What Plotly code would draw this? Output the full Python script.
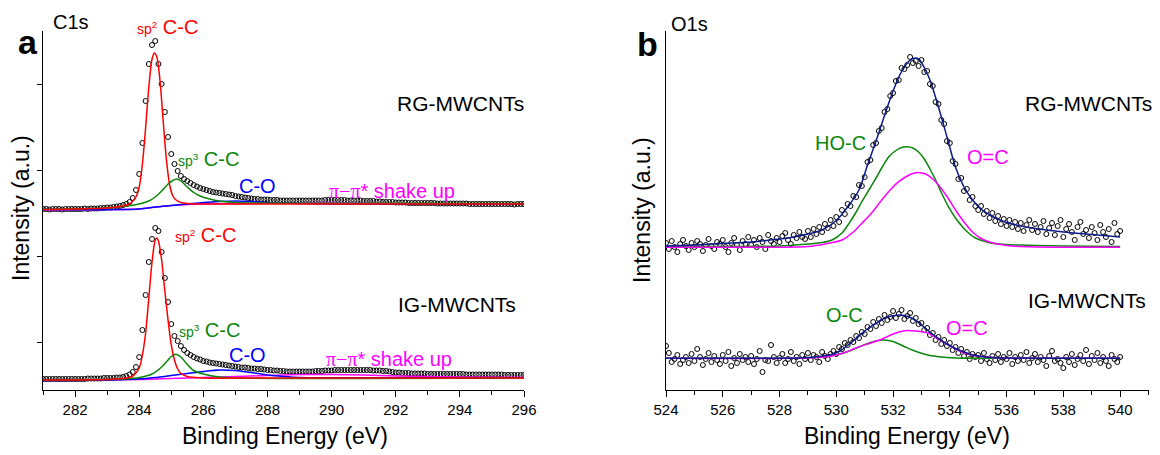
import numpy as np
import plotly.graph_objects as go

W, H = 1160, 455

# ---- C1s (panel a) ----
c1s_energy = np.round(np.arange(281.0, 296.01, 0.1), 2)

rg_c1s = [
    181, 181, 180.5, 181, 181, 181, 180.5, 181, 181, 181,
    181, 181, 181, 181.5, 181, 181.5, 181.5, 181.5, 182, 182,
    182.5, 182.5, 183, 183.5, 184, 185, 186, 188, 192, 200,
    216, 247, 289, 326, 345, 349, 326, 306, 278, 253,
    236, 226, 219, 214, 211, 209, 207, 205, 203.5, 202,
    201, 200, 199, 198, 197.5, 197, 196.5, 196, 195.5, 195,
    194, 193.5, 193, 192.5, 192, 191.5, 191, 191, 190.5, 190.5,
    190.5, 190, 190, 190, 189.5, 189.5, 189.5, 189.5, 189.5, 189.5,
    189.5, 189.5, 189.5, 189.5, 189.5, 189.5, 189.5, 189.5, 190, 190,
    190, 190, 190, 190, 190, 189.5, 189.5, 189.5, 189.5, 189.5,
    189, 189, 189, 189, 188.5, 188.5, 188, 188, 188, 188,
    187.5, 187.5, 187.5, 187.5, 187, 187, 187, 187, 187, 187,
    187, 187, 187, 186.5, 186.5, 186.5, 186.5, 186.5, 186.5, 186.5,
    186.5, 186.5, 186.5, 186, 186, 186, 186, 186, 186, 186,
    186, 186, 186, 186, 186, 186, 186, 185.5, 186, 186,
    186,
]

ig_c1s = [
    11, 11, 11, 11, 11, 11, 11, 11, 11, 11,
    11, 11, 11, 11, 11.5, 11.5, 11.5, 11.5, 11.5, 12,
    12, 12, 12, 12.5, 12.5, 13, 14, 15.5, 18, 23,
    33, 60, 95, 128, 151, 162, 159, 138, 112, 88,
    66, 54, 49, 44, 40, 37, 35, 33, 31.5, 30.5,
    29, 28.5, 27.5, 27, 26.5, 26, 25.5, 25, 24.5, 24,
    23.5, 23, 22.5, 22.5, 22, 21.5, 21.5, 21, 21, 20.5,
    20, 20, 19.5, 19.5, 19, 19, 18.5, 18.5, 18.5, 18.5,
    18.5, 18.5, 18.5, 18.5, 18.5, 19, 19, 19, 19.5, 19.5,
    19.5, 20, 20, 20, 20, 20, 20, 20, 20, 20,
    20, 20, 20, 19.5, 19.5, 19.5, 19, 19, 18.5, 18,
    17.5, 17.5, 17, 17, 17, 16.5, 16.5, 16.5, 16.5, 16.5,
    16, 16, 16, 16, 16, 16, 16, 16, 16, 16,
    16, 16, 15.5, 15.5, 15.5, 15.5, 15.5, 15.5, 15.5, 15.5,
    15.5, 15.5, 15.5, 15.5, 15, 15, 15, 15, 15, 15,
    15,
]

# fitted components, C1s
rg_sp2_x = [281, 283, 283.5, 283.7, 283.8, 283.9, 284.0, 284.1, 284.2, 284.3, 284.4, 284.47,
            284.55, 284.65, 284.75, 284.85, 284.95, 285.05, 285.15, 285.3, 285.5, 285.8, 286.5, 288, 296]
rg_sp2_y = [180.5, 182, 184, 186, 189, 193, 203, 226, 262, 303, 331, 337,
            333, 309, 268, 230, 205, 194, 190, 187.5, 186.5, 186, 186, 186, 186]
rg_sp3_x = [281, 283, 283.5, 284.0, 284.3, 284.5, 284.7, 284.9, 285.05, 285.17, 285.3, 285.5,
            285.7, 285.9, 286.2, 286.5, 287.0, 288, 296]
rg_sp3_y = [180.5, 182, 183.5, 186, 189, 193, 199, 206, 209.5, 211, 209, 203,
            197.5, 194, 191, 189, 187.5, 187, 186.5]
rg_co_x = [281, 284, 284.5, 285, 285.5, 286, 286.5, 287, 287.5, 288, 288.5, 289, 290, 296]
rg_co_y = [180.5, 181, 183, 184.5, 186, 187.5, 188.5, 189, 188.5, 187.5, 187, 186.5, 186, 186]
rg_pi_x = [281, 283, 284, 284.5, 285, 285.5, 286, 287, 288, 289, 290, 291, 292, 293, 296]
rg_pi_y = [180, 180.5, 181, 183, 184.5, 185.5, 186, 186.3, 186.8, 187.3, 187.5, 187, 186.5, 186.2, 186]

ig_sp2_x = [281, 283, 283.5, 283.8, 284.0, 284.1, 284.2, 284.3, 284.4, 284.5, 284.55, 284.6,
            284.7, 284.8, 284.9, 285.0, 285.1, 285.2, 285.3, 285.5, 286, 288, 296]
ig_sp2_y = [10, 10.5, 11.5, 14, 22, 35, 57, 92, 128, 150, 152, 149,
            130, 99, 70, 45, 30, 21, 16.5, 13.5, 12, 12, 12]
ig_sp3_x = [281, 283.5, 284, 284.4, 284.7, 284.9, 285.0, 285.14, 285.3, 285.5, 285.7, 286,
            286.5, 287, 296]
ig_sp3_y = [10, 11, 12.5, 16, 23, 30, 33.5, 35.7, 33, 25.5, 19.5, 16, 13, 12, 12]
ig_co_x = [281, 283, 284, 284.5, 285, 285.5, 286, 286.5, 287, 287.5, 288, 288.5, 289, 290, 296]
ig_co_y = [9.5, 10, 11, 12.5, 14.5, 16.5, 18.5, 20, 19.5, 17.5, 15, 13.5, 12.5, 12.3, 12.3]
ig_pi_x = [281, 284, 285, 286, 287, 288, 289, 290, 291, 292, 293, 294, 296]
ig_pi_y = [9.5, 10.5, 11.5, 12.5, 13.5, 14.5, 15.5, 15.5, 15, 14, 13.5, 13, 12.8]

# ---- O1s (panel b) ----
o1s_energy = np.round(np.arange(524.0, 540.01, 0.1), 2)

rg_o1s = [
    147, 141, 149, 143, 138, 146, 150, 144, 140, 147,
    143, 149, 146, 139, 145, 151, 144, 141, 148, 146,
    150, 143, 138, 147, 152, 145, 140, 149, 146, 153,
    145, 150, 143, 152, 148, 141, 155, 149, 146, 152,
    148, 154, 157, 150, 146, 155, 152, 158, 153, 151,
    159, 153, 161, 156, 163, 158, 166, 162, 170, 164,
    173, 168, 180, 176, 186, 184, 194, 193, 205, 204,
    213, 228, 230, 245, 247, 259, 262, 278, 281, 294,
    297, 309, 310, 322, 321, 325, 333, 327, 329, 324,
    330, 318, 319, 306, 304, 288, 286, 270, 266, 249,
    247, 229, 226, 211, 212, 199, 201, 190, 193, 184,
    180, 184, 176, 179, 172, 177, 169, 174, 166, 171,
    164, 170, 163, 168, 161, 167, 159, 165, 170, 160,
    166, 158, 163, 169, 156, 162, 167, 155, 164, 170,
    153, 161, 166, 158, 150, 163, 168, 156, 160, 152,
    163, 157, 150, 165, 158, 153, 161, 148, 167, 156,
    159,
]

ig_o1s = [
    44, 37, 28, 31, 35, 26, 30, 33, 27, 36,
    29, 41, 33, 25, 31, 37, 28, 34, 30, 26,
    35, 29, 38, 24, 32, 27, 36, 30, 33, 28,
    34, 26, 31, 39, 18, 30, 29, 45, 33, 27,
    32, 36, 27, 31, 38, 29, 33, 26, 35, 31,
    37, 30, 35, 33, 28, 38, 34, 31, 36, 39,
    36, 43, 41, 47, 45, 50, 48, 54, 52, 58,
    56, 63, 61, 68, 64, 71, 67, 75, 70, 73,
    79, 72, 76, 80, 71, 74, 77, 69, 72, 66,
    67, 60, 62, 55, 57, 50, 53, 46, 50, 44,
    47, 40, 43, 37, 41, 34, 38, 31, 36, 33,
    35, 29, 37, 31, 27, 34, 30, 36, 28, 33,
    31, 37, 26, 33, 29, 35, 30, 38, 27, 32,
    36, 28, 33, 30, 24, 34, 39, 29, 31, 27,
    22, 33, 28, 36, 25, 31, 35, 29, 40, 26,
    34, 30, 37, 27, 33, 29, 24, 35, 31, 28,
    33,
]

rg_fit_x = [524, 525, 526, 527, 528, 528.5, 529, 529.5, 530, 530.4, 530.8, 531.1, 531.4, 531.7,
            532.0, 532.3, 532.5, 532.7, 532.9, 533.1, 533.3, 533.6, 533.9, 534.2, 534.5, 534.8,
            535.1, 535.5, 536, 536.5, 537, 538, 539, 540]
rg_fit_y = [144, 145, 146.5, 148, 151, 153, 156, 160, 169.5, 183, 200, 225, 249, 274.5,
            299, 318.5, 327, 331.5, 331, 322.5, 310, 283, 253, 223, 203, 190,
            181, 173.5, 167.5, 164, 161.5, 158, 155.5, 153]
rg_hoc_x = [524, 526, 528, 528.9, 529.5, 529.85, 530.2, 530.45, 530.7, 530.9, 531.15, 531.4,
            531.6, 531.85, 532.1, 532.3, 532.5, 532.7, 532.9, 533.1, 533.3, 533.5, 533.7,
            533.95, 534.2, 534.45, 534.7, 534.9, 535.4, 536, 536.5, 537, 538, 540]
rg_hoc_y = [143.5, 143.5, 144, 145.7, 147.5, 150, 157, 166.7, 178, 188.3, 200, 212,
            222, 233.3, 239.5, 242.5, 243.3, 242, 238, 231, 221, 210, 197.5,
            183.3, 172, 163, 156, 152, 147.3, 145.5, 145, 144.5, 144, 143.5]
rg_oc_x = [524, 527, 529, 529.6, 530.2, 530.6, 530.9, 531.2, 531.6, 531.9, 532.2, 532.5,
           532.75, 532.95, 533.15, 533.4, 533.6, 533.9, 534.2, 534.5, 534.8, 535.1, 535.4,
           536, 536.5, 537, 540]
rg_oc_y = [142.7, 142.7, 143.5, 146, 150, 158, 166.7, 175.5, 190, 200, 208.3, 214,
           217, 217.3, 216, 211, 205, 193.5, 180, 168, 158, 151.5, 148,
           144.5, 143.5, 143, 142.7]

ig_fit_x = [524, 526, 528, 528.9, 529.4, 529.85, 530.15, 530.42, 530.7, 530.9, 531.15, 531.4,
            531.6, 531.85, 532.05, 532.2, 532.4, 532.65, 532.9, 533.15, 533.4, 533.6, 533.9,
            534.2, 534.5, 534.8, 535.4, 536, 538, 540]
ig_fit_y = [31.7, 31.7, 31.7, 32.3, 33.5, 35.7, 39.5, 45, 51.5, 56.7, 62, 66.7,
            70.5, 73.3, 74.6, 75, 74.5, 72, 67.5, 61.5, 55.5, 51.7, 46,
            41.5, 38, 35, 32.7, 32, 31.7, 31.7]
ig_oc1_x = [524, 528, 529, 529.5, 530, 530.4, 530.8, 531.1, 531.4, 531.7, 532.0, 532.4,
            532.7, 533.0, 533.3, 533.6, 534.2, 535, 540]
ig_oc1_y = [31.7, 31.7, 32.2, 33.3, 35.3, 38.3, 43, 46.5, 49, 50, 48.5, 43.5,
            39.8, 36.7, 34.5, 33.3, 32, 31.7, 31.7]
ig_oc2_x = [524, 528.5, 529.3, 529.85, 530.3, 530.66, 531.1, 531.6, 532.0, 532.4, 532.8,
            533.24, 533.6, 533.95, 534.25, 534.54, 534.9, 535.4, 536, 540]
ig_oc2_y = [31.7, 31.7, 32.5, 34, 37.5, 41.7, 46, 50.7, 56, 59.3, 59,
            56.7, 51, 45, 40.5, 36.7, 34.3, 32.7, 32, 31.7]

RED, GREEN, BLUE, MAG, NAVY = "#ff0000", "#0a870a", "#0000ff", "#ff00ff", "#0d1a8c"
FONT = "Arial, Liberation Sans, sans-serif"

fig = go.Figure()


def points(x, y, axes):
    fig.add_trace(go.Scatter(
        x=x, y=y, mode="markers", xaxis=axes[0], yaxis=axes[1],
        marker=dict(symbol="circle-open", size=5, color="black", line=dict(width=1)),
        showlegend=False, hoverinfo="skip"))


def curve(x, y, color, axes):
    fig.add_trace(go.Scatter(
        x=x, y=y, mode="lines", xaxis=axes[0], yaxis=axes[1],
        line=dict(color=color, width=1.5, shape="spline", smoothing=0.8),
        showlegend=False, hoverinfo="skip"))


A, B = ("x", "y"), ("x2", "y2")

points(c1s_energy, rg_c1s, A)
points(c1s_energy, ig_c1s, A)
for xs, ys, c in [(rg_pi_x, rg_pi_y, MAG), (rg_co_x, rg_co_y, BLUE), (rg_sp3_x, rg_sp3_y, GREEN),
                  (rg_sp2_x, rg_sp2_y, RED), (ig_pi_x, ig_pi_y, MAG), (ig_co_x, ig_co_y, BLUE),
                  (ig_sp3_x, ig_sp3_y, GREEN), (ig_sp2_x, ig_sp2_y, RED)]:
    curve(xs, ys, c, A)

points(o1s_energy, rg_o1s, B)
points(o1s_energy, ig_o1s, B)
for xs, ys, c in [(rg_hoc_x, rg_hoc_y, GREEN), (rg_oc_x, rg_oc_y, MAG), (rg_fit_x, rg_fit_y, NAVY),
                  (ig_oc1_x, ig_oc1_y, GREEN), (ig_oc2_x, ig_oc2_y, MAG), (ig_fit_x, ig_fit_y, NAVY)]:
    curve(xs, ys, c, B)

# plot areas in pixels: a = 43..524, b = 666..1148.5, both y 31..390
ydom = [(H - 390) / H, (H - 31) / H]
xax = dict(showline=True, linecolor="black", linewidth=1.3, ticks="outside", ticklen=6,
           tickwidth=1.3, tickcolor="black", dtick=2, showgrid=False, zeroline=False,
           tickfont=dict(family=FONT, size=15, color="black"), automargin=False,
           minor=dict(ticks="outside", ticklen=3.5, tickwidth=1.2, tickcolor="black", dtick=1))
yax = dict(showline=True, linecolor="black", linewidth=1.3, showgrid=False, zeroline=False,
           showticklabels=False, range=[0, 359], domain=ydom, automargin=False)

fig.update_layout(
    width=W, height=H, margin=dict(l=0, r=0, t=0, b=0),
    paper_bgcolor="white", plot_bgcolor="white",
    xaxis=dict(xax, domain=[43 / W, 524 / W], range=[281, 296], tick0=282, anchor="y"),
    yaxis=dict(yax, anchor="x", ticks="outside", ticklen=5, tickwidth=1.3, tickcolor="black",
               tick0=48, dtick=85.7),
    xaxis2=dict(xax, domain=[666 / W, 1148.5 / W], range=[524, 541], tick0=524, anchor="y2"),
    yaxis2=dict(yax, anchor="x2", ticks=""),
)


def label(text, x, y, color="black", size=20, **kw):
    fig.add_annotation(text=text, x=x / W, y=1 - y / H, xref="paper", yref="paper",
                       showarrow=False, font=dict(family=FONT, size=size, color=color),
                       xanchor=kw.pop("xanchor", "center"), yanchor="middle", **kw)


PI = "<span style='font-family:Liberation Serif'>π−π</span>* shake up"
SP = "<span style='font-size:14px'>sp<sup>%d</sup></span> C-C"

label("<b>a</b>", 28, 42, size=34)
label("<b>b</b>", 647, 44, size=34)
label("C1s", 71, 22, size=20)
label("O1s", 689, 24, size=20)

label("RG-MWCNTs", 460, 104, size=21)
label("IG-MWCNTs", 457, 304, size=21)
label("RG-MWCNTs", 1088, 104, size=21)
label("IG-MWCNTs", 1087, 300, size=21)

label(SP % 2, 167, 27, RED)
label(SP % 3, 208, 159, GREEN)
label("C-O", 257, 186, BLUE)
label(PI, 392, 191, MAG)
label(SP % 2, 205, 235, RED)
label(SP % 3, 209, 330, GREEN)
label("C-O", 247, 355, BLUE)
label(PI, 389, 359, MAG)

label("HO-C", 840, 143, GREEN)
label("O=C", 988, 157, MAG)
label("O-C", 844, 315, GREEN)
label("O=C", 967, 328, MAG)

label("Binding Energy (eV)", 285, 436, size=23)
label("Binding Energy (eV)", 907, 436, size=23)
label("Intensity (a.u.)", 21, 208, size=23, textangle=-90)
label("Intensity (a.u.)", 642, 210, size=23, textangle=-90)

# the page's default body margin would shift the figure by 8 px
fig.write_html("out.html", config={"displayModeBar": False},
               post_script="document.body.style.margin='0';")
